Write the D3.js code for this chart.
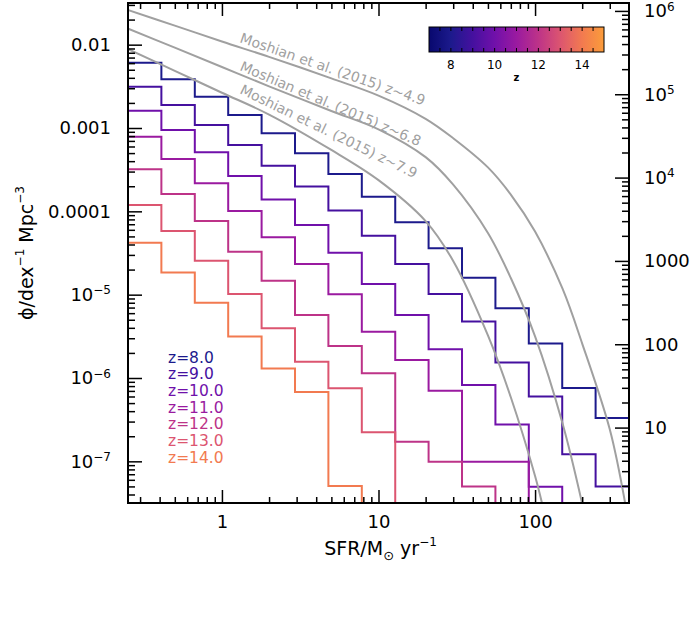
<!DOCTYPE html>
<html>
<head>
<meta charset="utf-8">
<script src="https://cdn.jsdelivr.net/npm/d3@7"></script>
<style>
  body { margin: 0; background: #fff; }
  text { font-family: "DejaVu Sans", sans-serif; }
</style>
</head>
<body>
<div id="chart"></div>
<script>
// bin edges of the SFR histograms (Msun/yr)
var binEdges = [0.2512, 0.4104, 0.6710, 1.0965, 1.792, 2.929, 4.786, 7.823, 12.79, 20.89, 34.15, 55.82, 91.2, 149.1, 243.6, 398.1];

var redshifts = [8, 9, 10, 11, 12, 13, 14];

// phi per bin (dex^-1 Mpc^-3), 0 = empty bin
var phiZ8  = [6.08e-3, 3.84e-3, 2.37e-3, 1.43e-3, 8.63e-4, 4.97e-4, 2.81e-4, 1.50e-4, 7.38e-5, 3.60e-5, 1.60e-5, 6.86e-6, 2.59e-6, 7.59e-7, 3.31e-7];
var phiZ9  = [3.13e-3, 1.89e-3, 1.09e-3, 6.25e-4, 3.53e-4, 1.98e-4, 1.02e-4, 5.10e-5, 2.33e-5, 1.02e-5, 4.76e-6, 1.53e-6, 6.00e-7, 1.22e-7, 4.99e-8];
var phiZ10 = [1.61e-3, 9.46e-4, 5.11e-4, 2.65e-4, 1.39e-4, 6.85e-5, 3.19e-5, 1.34e-5, 5.70e-6, 2.21e-6, 8.24e-7, 2.77e-7, 4.96e-8, 0, 0];
var phiZ11 = [7.86e-4, 4.25e-4, 2.17e-4, 1.01e-4, 4.88e-5, 2.33e-5, 1.01e-5, 3.59e-6, 1.64e-6, 7.04e-7, 9.90e-8, 9.90e-8, 0, 0, 0];
var phiZ12 = [3.19e-4, 1.61e-4, 7.66e-5, 3.28e-5, 1.47e-5, 5.70e-6, 2.42e-6, 1.14e-6, 1.72e-7, 9.90e-8, 4.99e-8, 0, 0, 0, 0];
var phiZ13 = [1.19e-4, 5.81e-5, 2.56e-5, 1.02e-5, 3.95e-6, 1.57e-6, 7.52e-7, 2.23e-7, 0, 0, 0, 0, 0, 0, 0];
var phiZ14 = [4.21e-5, 1.84e-5, 8.01e-6, 3.15e-6, 1.30e-6, 6.79e-7, 5.06e-8, 0, 0, 0, 0, 0, 0, 0, 0];

var lineColors = ["#1c1a8c", "#45109f", "#7010aa", "#9a1aa0", "#bd3388", "#dc5570", "#f27a50"];

// Mashian et al. (2015) curves
var curveLabels = ["Moshian et al. (2015) z~4.9", "Moshian et al. (2015) z~6.8", "Moshian et al. (2015) z~7.9"];
var sfrZ49 = [0.25, 0.5, 1, 2, 5, 10, 20, 30, 50, 70, 100, 150, 200, 300, 376];
var phiZ49 = [0.0261, 0.01694, 0.01091, 7.14e-3, 3.94e-3, 2.45e-3, 1.29e-3, 7.55e-4, 3.37e-4, 1.59e-4, 5.71e-5, 1.17e-5, 2.59e-6, 2.42e-7, 3.16e-8];
var sfrZ68 = [0.25, 0.5, 1, 2, 5, 10, 20, 30, 50, 70, 100, 150, 199.5];
var phiZ68 = [0.01563, 9.20e-3, 5.40e-3, 3.16e-3, 1.60e-3, 9.64e-4, 4.47e-4, 2.09e-4, 5.50e-5, 1.585e-5, 3.16e-6, 2.82e-7, 3.16e-8];
var sfrZ79 = [0.25, 0.5, 1, 2, 5, 10, 20, 30, 50, 70, 100, 110.7];
var phiZ79 = [8.87e-3, 4.85e-3, 2.65e-3, 1.45e-3, 5.45e-4, 2.37e-4, 7.64e-5, 2.54e-5, 3.24e-6, 5.87e-7, 6.67e-8, 3.16e-8];

// colour bar
var cbarZ = [7, 8, 9, 10, 11, 12, 13, 14, 15];
var cbarColors = ["#08086e", "#1c1a8c", "#45109f", "#7010aa", "#9a1aa0", "#bd3388", "#dc5570", "#f27a50", "#fb9c3a"];
var cbarTicks = [8, 10, 12, 14];

var svgWidth = 692, svgHeight = 634;
var margin = {top: 3, left: 128};
var width = 501, height = 500;

var svg = d3.select("#chart").append("svg")
  .attr("width", svgWidth)
  .attr("height", svgHeight);

var g = svg.append("g")
  .attr("transform", `translate(${margin.left}, ${margin.top})`);

g.append("clipPath").attr("id", "plotclip")
  .append("rect").attr("width", width).attr("height", height);

var x = d3.scaleLog().domain([binEdges[0], binEdges[binEdges.length - 1]]).range([0, width]);
var y = d3.scaleLog().domain([Math.pow(10, -7.5), Math.pow(10, -1.5)]).range([height, 0]);
var yRight = d3.scaleLog().domain([Math.pow(10, 0.095), Math.pow(10, 6.095)]).range([height, 0]);

// histograms
var allPhi = [phiZ8, phiZ9, phiZ10, phiZ11, phiZ12, phiZ13, phiZ14];
allPhi.forEach(function(phi, i) {
  var p = d3.path();
  p.moveTo(x(binEdges[0]), y(phi[0]));
  for (var k = 0; k < phi.length; k++) {
    if (phi[k] <= 0) { p.lineTo(x(binEdges[k]), height); break; }
    if (k > 0) p.lineTo(x(binEdges[k]), y(phi[k]));
    p.lineTo(x(binEdges[k + 1]), y(phi[k]));
  }
  g.append("path")
    .attr("d", p.toString())
    .attr("fill", "none")
    .attr("stroke", lineColors[i])
    .attr("stroke-width", 2)
    .attr("clip-path", "url(#plotclip)");
});

// model curves
var line = d3.line()
  .x(d => x(d[0]))
  .y(d => y(d[1]))
  .curve(d3.curveCatmullRom.alpha(0.5));

[[sfrZ49, phiZ49], [sfrZ68, phiZ68], [sfrZ79, phiZ79]].forEach(function(c) {
  g.append("path")
    .datum(c[0].map((s, k) => [s, c[1][k]]))
    .attr("d", line)
    .attr("fill", "none")
    .attr("stroke", "#a0a0a0")
    .attr("stroke-width", 2)
    .attr("clip-path", "url(#plotclip)");
});

var labelPos = [[111, 39, 19], [111, 67, 23], [111, 90, 26]];
curveLabels.forEach(function(t, i) {
  g.append("text")
    .attr("transform", `translate(${labelPos[i][0]}, ${labelPos[i][1]}) rotate(${labelPos[i][2]})`)
    .attr("font-size", 14)
    .attr("fill", "#a0a0a0")
    .text(t);
});

// axes
function isMajor(v) { return Math.abs(Math.log10(v) - Math.round(Math.log10(v))) < 1e-6; }

function supLabel(sel, base, exp) {
  sel.text(null);
  sel.append("tspan").text(base);
  sel.append("tspan").attr("font-size", 12).attr("dy", "-0.55em").text(exp);
}

var bottomAxis = d3.axisBottom(x).tickValues(x.ticks()).tickSize(-13).tickPadding(12)
  .tickFormat(d => isMajor(d) ? d3.format("d")(d) : "");
var topAxis = d3.axisTop(x).tickValues(x.ticks()).tickSize(-13).tickFormat("");
var leftAxis = d3.axisLeft(y).tickValues(y.ticks()).tickSize(-14).tickPadding(17)
  .tickFormat(d => isMajor(d) ? String(d) : "");
var rightAxis = d3.axisRight(yRight).tickValues(yRight.ticks()).tickSize(-14).tickPadding(15)
  .tickFormat(d => isMajor(d) ? String(d) : "");

function styleAxis(ax, minorLen, attr) {
  ax.select(".domain").remove();
  ax.selectAll(".tick line")
    .attr("stroke", "#000").attr("stroke-width", 1.5)
    .each(function(d) { if (!isMajor(d)) d3.select(this).attr(attr, minorLen); });
  ax.selectAll(".tick text")
    .attr("font-size", 18).attr("fill", "#000")
    .attr("font-family", "DejaVu Sans, sans-serif");
}

var gb = g.append("g").attr("transform", `translate(0, ${height})`).call(bottomAxis);
styleAxis(gb, -6, "y2");
var gt = g.append("g").call(topAxis);
styleAxis(gt, 6, "y2");
var gl = g.append("g").call(leftAxis);
styleAxis(gl, 7, "x2");
gl.selectAll(".tick text").each(function(d) {
  if (isMajor(d) && d < 5e-5) supLabel(d3.select(this), "10", "\u2212" + Math.round(-Math.log10(d)));
});
var gr = g.append("g").attr("transform", `translate(${width}, 0)`).call(rightAxis);
styleAxis(gr, -7, "x2");
gr.selectAll(".tick text").each(function(d) {
  if (isMajor(d) && d > 5000) supLabel(d3.select(this), "10", String(Math.round(Math.log10(d))));
});

g.append("rect")
  .attr("width", width).attr("height", height)
  .attr("fill", "none").attr("stroke", "#000").attr("stroke-width", 2);

// axis titles
var xt = svg.append("text")
  .attr("x", margin.left + width / 2 + 2).attr("y", 555)
  .attr("text-anchor", "middle").attr("font-size", 19);
xt.append("tspan").text("SFR/M");
xt.append("tspan").attr("font-size", 13).attr("dy", 5).text("\u2299");
xt.append("tspan").attr("dy", -5).text(" yr");
xt.append("tspan").attr("font-size", 12).attr("dy", -9).text("\u22121");

var yt = svg.append("text")
  .attr("transform", `translate(33, ${margin.top + height / 2}) rotate(-90)`)
  .attr("text-anchor", "middle").attr("font-size", 19);
yt.append("tspan").text("\u03d5/dex");
yt.append("tspan").attr("font-size", 12).attr("dy", -9).text("\u22121");
yt.append("tspan").attr("dy", 9).text(" Mpc");
yt.append("tspan").attr("font-size", 12).attr("dy", -9).text("\u22123");

// legend
redshifts.forEach(function(z, i) {
  svg.append("text")
    .attr("x", 168).attr("y", 362.7 + i * 16.67)
    .attr("font-size", 15.5)
    .attr("fill", lineColors[i])
    .text("z=" + z.toFixed(1));
});

// colour bar
var cb = {x: 429, y: 27, w: 175, h: 25};
var cx = d3.scaleLinear().domain([7, 15]).range([cb.x, cb.x + cb.w]);
var cColor = d3.scaleLinear().domain(cbarZ).range(cbarColors);
var grad = svg.append("defs").append("linearGradient").attr("id", "cbgrad");
cbarZ.forEach(function(z) {
  grad.append("stop").attr("offset", ((z - 7) / 8 * 100) + "%").attr("stop-color", cColor(z));
});
svg.append("rect")
  .attr("x", cb.x).attr("y", cb.y).attr("width", cb.w).attr("height", cb.h)
  .attr("fill", "url(#cbgrad)").attr("stroke", "#000").attr("stroke-width", 1);
d3.range(7.5, 15, 0.5).forEach(function(z) {
  svg.append("line").attr("x1", cx(z)).attr("x2", cx(z)).attr("y1", cb.y).attr("y2", cb.y + 4)
    .attr("stroke", "#000").attr("stroke-width", 1);
  svg.append("line").attr("x1", cx(z)).attr("x2", cx(z)).attr("y1", cb.y + cb.h).attr("y2", cb.y + cb.h - 4)
    .attr("stroke", "#000").attr("stroke-width", 1);
});
cbarTicks.forEach(function(z) {
  svg.append("text").attr("x", cx(z)).attr("y", 69)
    .attr("text-anchor", "middle").attr("font-size", 12).text(z);
});
svg.append("text").attr("x", cx(11)).attr("y", 81)
  .attr("text-anchor", "middle").attr("font-size", 10).attr("font-weight", "bold").text("z");
</script>
</body>
</html>
